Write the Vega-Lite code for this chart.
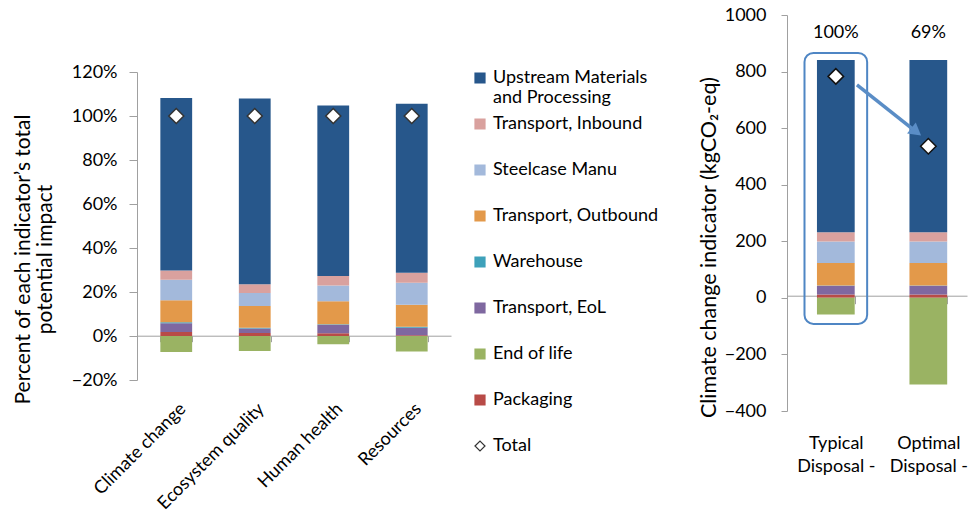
{
  "$schema": "https://vega.github.io/schema/vega-lite/v6.json",
  "background": "white",
  "padding": {"left": 12, "top": 6, "right": 0, "bottom": 0},
  "spacing": 39,
  "config": {
    "font": "Lato",
    "view": {"stroke": null},
    "axis": {
      "labelFont": "Lato", "titleFont": "Lato", "labelColor": "#000", "titleColor": "#000",
      "domainColor": "#a0a0a0", "tickColor": "#a0a0a0", "grid": false,
      "labelFontSize": 18, "titleFontSize": 21, "titleFontWeight": "normal",
      "labelOverlap": false, "labelFlush": false, "labelBound": false
    },
    "legend": {
      "labelFont": "Lato", "labelFontSize": 18, "labelColor": "#000"
    }
  },
  "datasets": {
    "left": [
      {"indicator": "Climate change", "series": "Packaging", "rank": 1, "value": 0.018},
      {"indicator": "Climate change", "series": "Transport, EoL", "rank": 2, "value": 0.040},
      {"indicator": "Climate change", "series": "Warehouse", "rank": 3, "value": 0.004},
      {"indicator": "Climate change", "series": "Transport, Outbound", "rank": 4, "value": 0.100},
      {"indicator": "Climate change", "series": "Steelcase Manu", "rank": 5, "value": 0.094},
      {"indicator": "Climate change", "series": "Transport, Inbound", "rank": 6, "value": 0.042},
      {"indicator": "Climate change", "series": "Upstream Materials and Processing", "rank": 7, "value": 0.784},
      {"indicator": "Climate change", "series": "End of life", "rank": 8, "value": -0.073},
      {"indicator": "Ecosystem quality", "series": "Packaging", "rank": 1, "value": 0.014},
      {"indicator": "Ecosystem quality", "series": "Transport, EoL", "rank": 2, "value": 0.020},
      {"indicator": "Ecosystem quality", "series": "Warehouse", "rank": 3, "value": 0.003},
      {"indicator": "Ecosystem quality", "series": "Transport, Outbound", "rank": 4, "value": 0.099},
      {"indicator": "Ecosystem quality", "series": "Steelcase Manu", "rank": 5, "value": 0.059},
      {"indicator": "Ecosystem quality", "series": "Transport, Inbound", "rank": 6, "value": 0.040},
      {"indicator": "Ecosystem quality", "series": "Upstream Materials and Processing", "rank": 7, "value": 0.844},
      {"indicator": "Ecosystem quality", "series": "End of life", "rank": 8, "value": -0.068},
      {"indicator": "Human health", "series": "Packaging", "rank": 1, "value": 0.012},
      {"indicator": "Human health", "series": "Transport, EoL", "rank": 2, "value": 0.039},
      {"indicator": "Human health", "series": "Warehouse", "rank": 3, "value": 0.002},
      {"indicator": "Human health", "series": "Transport, Outbound", "rank": 4, "value": 0.105},
      {"indicator": "Human health", "series": "Steelcase Manu", "rank": 5, "value": 0.071},
      {"indicator": "Human health", "series": "Transport, Inbound", "rank": 6, "value": 0.044},
      {"indicator": "Human health", "series": "Upstream Materials and Processing", "rank": 7, "value": 0.775},
      {"indicator": "Human health", "series": "End of life", "rank": 8, "value": -0.038},
      {"indicator": "Resources", "series": "Packaging", "rank": 1, "value": 0.003},
      {"indicator": "Resources", "series": "Transport, EoL", "rank": 2, "value": 0.034},
      {"indicator": "Resources", "series": "Warehouse", "rank": 3, "value": 0.005},
      {"indicator": "Resources", "series": "Transport, Outbound", "rank": 4, "value": 0.100},
      {"indicator": "Resources", "series": "Steelcase Manu", "rank": 5, "value": 0.100},
      {"indicator": "Resources", "series": "Transport, Inbound", "rank": 6, "value": 0.046},
      {"indicator": "Resources", "series": "Upstream Materials and Processing", "rank": 7, "value": 0.768},
      {"indicator": "Resources", "series": "End of life", "rank": 8, "value": -0.071}
    ],
    "leftTotal": [
      {"indicator": "Climate change", "series": "Total", "value": 1.0},
      {"indicator": "Ecosystem quality", "series": "Total", "value": 1.0},
      {"indicator": "Human health", "series": "Total", "value": 1.0},
      {"indicator": "Resources", "series": "Total", "value": 1.0}
    ],
    "right": [
      {"scenario": "Typical Disposal -", "series": "Packaging", "rank": 1, "value": 12},
      {"scenario": "Typical Disposal -", "series": "Transport, EoL", "rank": 2, "value": 31},
      {"scenario": "Typical Disposal -", "series": "Warehouse", "rank": 3, "value": 1},
      {"scenario": "Typical Disposal -", "series": "Transport, Outbound", "rank": 4, "value": 79},
      {"scenario": "Typical Disposal -", "series": "Steelcase Manu", "rank": 5, "value": 76},
      {"scenario": "Typical Disposal -", "series": "Transport, Inbound", "rank": 6, "value": 33},
      {"scenario": "Typical Disposal -", "series": "Upstream Materials and Processing", "rank": 7, "value": 609},
      {"scenario": "Typical Disposal -", "series": "End of life", "rank": 8, "value": -59},
      {"scenario": "Optimal Disposal -", "series": "Packaging", "rank": 1, "value": 12},
      {"scenario": "Optimal Disposal -", "series": "Transport, EoL", "rank": 2, "value": 31},
      {"scenario": "Optimal Disposal -", "series": "Warehouse", "rank": 3, "value": 1},
      {"scenario": "Optimal Disposal -", "series": "Transport, Outbound", "rank": 4, "value": 79},
      {"scenario": "Optimal Disposal -", "series": "Steelcase Manu", "rank": 5, "value": 76},
      {"scenario": "Optimal Disposal -", "series": "Transport, Inbound", "rank": 6, "value": 33},
      {"scenario": "Optimal Disposal -", "series": "Upstream Materials and Processing", "rank": 7, "value": 609},
      {"scenario": "Optimal Disposal -", "series": "End of life", "rank": 8, "value": -306}
    ],
    "rightTotal": [
      {"scenario": "Typical Disposal -", "series": "Total", "value": 783, "pct": "100%"},
      {"scenario": "Optimal Disposal -", "series": "Total", "value": 536, "pct": "69%"}
    ]
  },
  "hconcat": [
    {
      "width": 314,
      "height": 365,
      "layer": [
        {
          "data": {"name": "left"},
          "mark": {"type": "bar"},
          "encoding": {
            "x": {
              "field": "indicator", "type": "nominal",
              "sort": ["Climate change", "Ecosystem quality", "Human health", "Resources"],
              "scale": {"domain": ["Climate change", "Ecosystem quality", "Human health", "Resources"], "paddingInner": 0.595, "paddingOuter": 0.2975},
              "axis": {"title": null, "labelAngle": -45, "offset": -44.3, "tickBand": "extent", "tickSize": 6, "labelPadding": 58}
            },
            "y": {
              "field": "value", "type": "quantitative", "stack": "zero",
              "scale": {"domain": [-0.2, 1.2], "nice": false, "zero": false, "range": [365, 57]},
              "axis": {
                "format": ".0%", "values": [-0.2, 0, 0.2, 0.4, 0.6, 0.8, 1.0, 1.2],
                "tickSize": 8, "labelPadding": 12,
                "title": ["Percent of each indicator’s total", "potential impact"],
                "titlePadding": 16, "titleLineHeight": 22, "titleY": 244
              }
            },
            "fill": {
              "field": "series", "type": "nominal",
              "scale": {
                "domain": ["Upstream Materials and Processing", "Transport, Inbound", "Steelcase Manu", "Transport, Outbound", "Warehouse", "Transport, EoL", "End of life", "Packaging", "Total"],
                "range": ["#27578b", "#d9a19e", "#a3b9db", "#e3994a", "#3ea1ba", "#7f68a0", "#9ab363", "#b84b47", "#ffffff"]
              },
              "legend": {
                "title": null, "orient": "none", "legendX": 334, "legendY": 54, "padding": 0,
                "symbolSize": 100, "symbolStrokeWidth": 1.2, "rowPadding": 8, "labelOffset": 4, "labelLimit": 260,
                "labelExpr": "datum.label == 'Upstream Materials and Processing' ? ['Upstream Materials', 'and Processing'] : [datum.label, '']"
              }
            },
            "order": {"field": "rank", "type": "quantitative"}
          }
        },
        {
          "data": {"name": "leftTotal"},
          "mark": {"type": "point", "filled": true, "size": 225, "strokeWidth": 1.5, "opacity": 1},
          "encoding": {
            "x": {"field": "indicator", "type": "nominal", "sort": ["Climate change", "Ecosystem quality", "Human health", "Resources"]},
            "y": {"field": "value", "type": "quantitative"},
            "fill": {"field": "series", "type": "nominal"},
            "stroke": {
              "field": "series", "type": "nominal",
              "scale": {
                "domain": ["Upstream Materials and Processing", "Transport, Inbound", "Steelcase Manu", "Transport, Outbound", "Warehouse", "Transport, EoL", "End of life", "Packaging", "Total"],
                "range": ["#27578b", "#d9a19e", "#a3b9db", "#e3994a", "#3ea1ba", "#7f68a0", "#9ab363", "#b84b47", "#333333"]
              }
            },
            "shape": {
              "field": "series", "type": "nominal",
              "scale": {
                "domain": ["Upstream Materials and Processing", "Transport, Inbound", "Steelcase Manu", "Transport, Outbound", "Warehouse", "Transport, EoL", "End of life", "Packaging", "Total"],
                "range": ["square", "square", "square", "square", "square", "square", "square", "square", "diamond"]
              }
            }
          }
        }
      ]
    },
    {
      "width": 180,
      "height": 396,
      "layer": [
        {
          "data": {"name": "right"},
          "mark": {"type": "bar"},
          "encoding": {
            "x": {
              "field": "scenario", "type": "nominal",
              "sort": ["Typical Disposal -", "Optimal Disposal -"],
              "scale": {"domain": ["Typical Disposal -", "Optimal Disposal -"], "paddingInner": 0.592, "paddingOuter": 0.269, "align": 0.602},
              "axis": {
                "title": null, "labelAngle": 0, "offset": -115.3, "tickBand": "extent", "tickSize": 8,
                "labelPadding": 131, "labelBaseline": "top", "labelLineHeight": 23,
                "labelExpr": "datum.value == 'Typical Disposal -' ? ['Typical', 'Disposal -'] : datum.value == 'Optimal Disposal -' ? ['Optimal', 'Disposal -'] : ''"
              }
            },
            "y": {
              "field": "value", "type": "quantitative", "stack": "zero",
              "scale": {"domain": [-400, 1000], "nice": false, "zero": false},
              "axis": {
                "values": [-400, -200, 0, 200, 400, 600, 800, 1000], "format": "d",
                "tickSize": 6, "labelPadding": 15,
                "title": "Climate change indicator (kgCO₂-eq)", "titlePadding": 4, "titleFontSize": 21.5, "titleY": 232
              }
            },
            "fill": {
              "field": "series", "type": "nominal", "legend": null,
              "scale": {
                "domain": ["Upstream Materials and Processing", "Transport, Inbound", "Steelcase Manu", "Transport, Outbound", "Warehouse", "Transport, EoL", "End of life", "Packaging", "Total"],
                "range": ["#27578b", "#d9a19e", "#a3b9db", "#e3994a", "#3ea1ba", "#7f68a0", "#9ab363", "#b84b47", "#ffffff"]
              }
            },
            "order": {"field": "rank", "type": "quantitative"}
          }
        },
        {
          "data": {"values": [{}]},
          "mark": {"type": "bar", "fill": "white", "fillOpacity": 0, "stroke": "#4f86c4", "strokeWidth": 2, "cornerRadius": 9, "width": {"band": 1.66}},
          "encoding": {
            "x": {"datum": "Typical Disposal -"},
            "y": {"datum": 866},
            "y2": {"datum": -92}
          }
        },
        {
          "data": {"values": [{}]},
          "mark": {"type": "rule", "stroke": "#5a8dc6", "strokeWidth": 3.5},
          "encoding": {
            "x": {"datum": "Typical Disposal -", "bandPosition": 1.06},
            "x2": {"datum": "Optimal Disposal -", "bandPosition": 0.18},
            "y": {"datum": 753},
            "y2": {"datum": 587}
          }
        },
        {
          "data": {"values": [{}]},
          "mark": {"type": "point", "shape": "triangle-right", "filled": true, "fill": "#5a8dc6", "size": 200, "angle": 38, "opacity": 1},
          "encoding": {
            "x": {"datum": "Optimal Disposal -", "bandPosition": 0.18},
            "y": {"datum": 587}
          }
        },
        {
          "data": {"name": "rightTotal"},
          "mark": {"type": "point", "filled": true, "size": 240, "strokeWidth": 1.5, "opacity": 1},
          "encoding": {
            "x": {"field": "scenario", "type": "nominal", "sort": ["Typical Disposal -", "Optimal Disposal -"]},
            "y": {"field": "value", "type": "quantitative"},
            "fill": {"field": "series", "type": "nominal", "legend": null},
            "stroke": {
              "field": "series", "type": "nominal", "legend": null,
              "scale": {
                "domain": ["Upstream Materials and Processing", "Transport, Inbound", "Steelcase Manu", "Transport, Outbound", "Warehouse", "Transport, EoL", "End of life", "Packaging", "Total"],
                "range": ["#27578b", "#d9a19e", "#a3b9db", "#e3994a", "#3ea1ba", "#7f68a0", "#9ab363", "#b84b47", "#111111"]
              }
            },
            "shape": {
              "field": "series", "type": "nominal", "legend": null,
              "scale": {
                "domain": ["Upstream Materials and Processing", "Transport, Inbound", "Steelcase Manu", "Transport, Outbound", "Warehouse", "Transport, EoL", "End of life", "Packaging", "Total"],
                "range": ["square", "square", "square", "square", "square", "square", "square", "square", "diamond"]
              }
            }
          }
        },
        {
          "data": {"name": "rightTotal"},
          "mark": {"type": "text", "fontSize": 18, "color": "#000"},
          "encoding": {
            "x": {"field": "scenario", "type": "nominal", "sort": ["Typical Disposal -", "Optimal Disposal -"]},
            "y": {"datum": 935},
            "text": {"field": "pct"}
          }
        }
      ]
    }
  ],
  "resolve": {"scale": {"fill": "independent", "stroke": "independent", "shape": "independent"}}
}
